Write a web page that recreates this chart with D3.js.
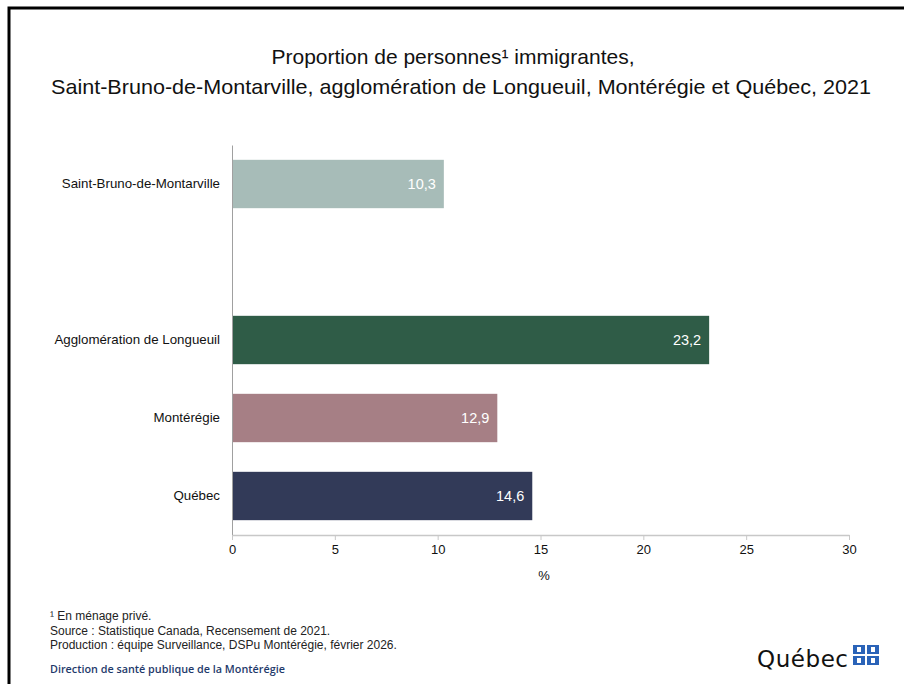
<!DOCTYPE html>
<html><head><meta charset="utf-8">
<script src="https://cdn.jsdelivr.net/npm/d3@7"></script>
<style>body{margin:0;background:#fff}svg{display:block}</style>
</head><body>
<script>
const categories = ["Saint-Bruno-de-Montarville", "", "Agglomération de Longueuil", "Montérégie", "Québec"];
const values = [10.3, null, 23.2, 12.9, 14.6];
const barColors = ["#a7bcb8", null, "#2f5c47", "#a67f85", "#323a58"];
const xTicks = [0, 5, 10, 15, 20, 25, 30];
const titleLines = ["Proportion de personnes¹ immigrantes,", "Saint-Bruno-de-Montarville, agglomération de Longueuil, Montérégie et Québec, 2021"];
const notes = ["¹ En ménage privé.", "Source : Statistique Canada, Recensement de 2021.", "Production : équipe Surveillance, DSPu Montérégie, février 2026."];

const W = 904, H = 684;
const svg = d3.select("body").append("svg").attr("width", W).attr("height", H);
const font = "'Liberation Sans', Arial, sans-serif";

// frame
svg.append("path").attr("d", `M9,${H} L9,8 L${W},8`).attr("fill", "none").attr("stroke", "#000").attr("stroke-width", 3);

// title
svg.append("text").attr("x", 453).attr("y", 64).attr("text-anchor", "middle")
  .attr("font-family", font).attr("font-size", 21).attr("fill", "#111").text(titleLines[0]);
svg.append("text").attr("x", 461).attr("y", 94).attr("text-anchor", "middle")
  .attr("font-family", font).attr("font-size", 21).attr("fill", "#111")
  .attr("textLength", 820).attr("lengthAdjust", "spacingAndGlyphs").text(titleLines[1]);

const x = d3.scaleLinear().domain([0, 30]).range([232, 849]);
const keys = categories.map((c, i) => i);
const y = d3.scaleBand().domain(keys).range([145, 535]).paddingInner(0.38).paddingOuter(0.19);

// bars
const data = keys.filter(i => values[i] !== null);
svg.selectAll("rect.bar").data(data).join("rect").attr("class", "bar")
  .attr("x", x(0)).attr("y", i => y(i)).attr("width", i => x(values[i]) - x(0))
  .attr("height", y.bandwidth()).attr("fill", i => barColors[i]);

svg.selectAll("text.val").data(data).join("text").attr("class", "val")
  .attr("x", i => x(values[i]) - 8).attr("y", i => y(i) + y.bandwidth() / 2 + 5)
  .attr("text-anchor", "end").attr("font-family", font).attr("font-size", 14.5).attr("fill", "#fff")
  .text(i => d3.format(".1f")(values[i]).replace(".", ","));

// y axis
const yAxis = svg.append("g").attr("transform", `translate(${x(0)},0)`)
  .call(d3.axisLeft(y).tickSize(0).tickPadding(12).tickFormat(i => categories[i]));
yAxis.select(".domain").attr("stroke", "#a0a0a0");
yAxis.selectAll("text").attr("font-family", font).attr("font-size", 13.3).attr("fill", "#111");

// x axis
const xAxis = svg.append("g").attr("transform", `translate(0,535)`)
  .call(d3.axisBottom(x).tickValues(xTicks).tickSize(5).tickPadding(5).tickSizeOuter(0));
xAxis.select(".domain").attr("stroke", "#c8c8c8").attr("stroke-width", 1.5);
xAxis.selectAll(".tick line").attr("stroke", "#c8c8c8");
xAxis.selectAll("text").attr("font-family", font).attr("font-size", 13).attr("fill", "#111");

svg.append("text").attr("x", 544).attr("y", 580).attr("text-anchor", "middle")
  .attr("font-family", font).attr("font-size", 13).attr("fill", "#111").text("%");

// notes
notes.forEach((t, i) => {
  svg.append("text").attr("x", 50).attr("y", 620 + i * 14.5)
    .attr("font-family", font)
    .attr("font-size", 12).attr("fill", "#222").text(t);
});
svg.append("text").attr("x", 50).attr("y", 673)
  .attr("font-family", "'Open Sans', 'Liberation Sans', sans-serif").attr("font-weight", 600)
  .attr("font-size", 10.8).attr("fill", "#1f3a6b").text("Direction de santé publique de la Montérégie");

// Québec logo
svg.append("text").attr("x", 757).attr("y", 667)
  .attr("font-family", "'DejaVu Sans', sans-serif").attr("font-size", 23).attr("fill", "#111")
  .attr("textLength", 91).text("Québec");
const flag = svg.append("g").attr("transform", "translate(853,645)");
[[0,0],[14,0],[0,11],[14,11]].forEach(([dx, dy]) => {
  flag.append("rect").attr("x", dx).attr("y", dy).attr("width", 12).attr("height", 9).attr("fill", "#2a63b8");
  flag.append("rect").attr("x", dx + 4).attr("y", dy + 2).attr("width", 4).attr("height", 5).attr("fill", "#fff");
});
</script>
</body></html>
